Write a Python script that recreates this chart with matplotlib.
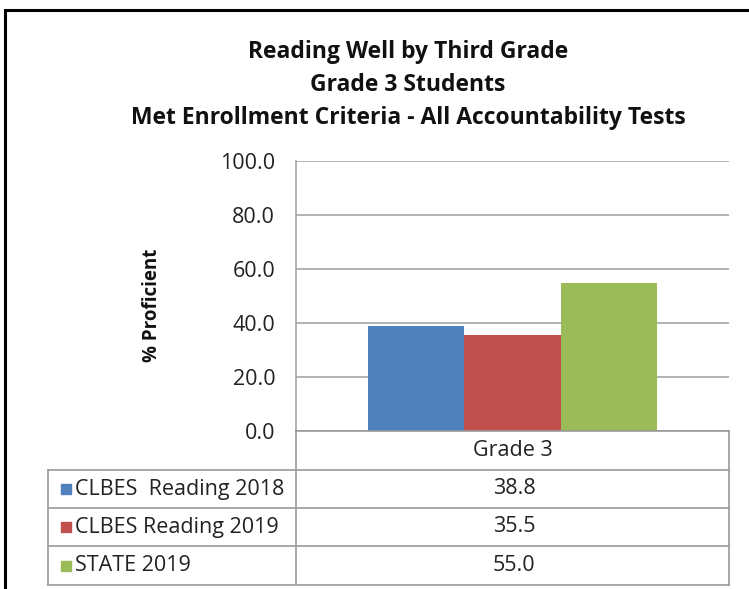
import matplotlib
matplotlib.use('Agg')

import matplotlib.pyplot as plt
from matplotlib.lines import Line2D
from matplotlib.patches import Rectangle

# data
categories = ['Grade 3']
series = ['CLBES  Reading 2018', 'CLBES Reading 2019', 'STATE 2019']
values = [38.8, 35.5, 55.0]
colors = ['#4f81bd', '#c0504d', '#9bbb59']
yticks = [0, 20, 40, 60, 80, 100]

W, H = 749, 589
plt.rcParams['font.family'] = ['Open Sans', 'DejaVu Sans']

fig = plt.figure(figsize=(W / 100, H / 100), dpi=100)

def fx(px):
    return px / W

def fy(py):
    return 1 - py / H

# plot area
ax = fig.add_axes([fx(296), fy(431), fx(729) - fx(296), fy(161) - fy(431)])
bar_w = 1 / 4.5
for i, (v, c) in enumerate(zip(values, colors)):
    ax.bar(-bar_w + i * bar_w, v, width=bar_w, color=c, zorder=3)
ax.set_xlim(-0.5, 0.5)
ax.set_ylim(0, 100)
ax.set_yticks(yticks)
ax.set_yticklabels(['%.1f' % t for t in yticks], fontsize=15.5, color='#222222')
ax.set_xticks([])
ax.tick_params(axis='y', length=0, pad=15)
ax.grid(axis='y', color='#a6a6a6', linewidth=1.2, zorder=0)
for s in ['top', 'right', 'bottom']:
    ax.spines[s].set_visible(False)
ax.spines['left'].set_color('#a6a6a6')
ax.spines['left'].set_linewidth(1.2)

# title and axis label
titles = ['Reading Well by Third Grade', 'Grade 3 Students',
          'Met Enrollment Criteria - All Accountability Tests']
for t, py in zip(titles, [52, 85, 118]):
    fig.text(fx(408), fy(py), t, ha='center', va='center', fontsize=16.5,
             fontweight='bold', color='#111111')
fig.text(fx(152), fy(305), '% Proficient', rotation=90, ha='center', va='center',
         fontsize=13.5, fontweight='bold', color='#111111')

# data table
lc = '#9a9a9a'
rows = [431, 470, 508, 546, 585]
x_left, x_mid, x_right = 48, 296, 729

def hline(x0, x1, py):
    fig.add_artist(Line2D([fx(x0), fx(x1)], [fy(py), fy(py)], color=lc, lw=1.2,
                          transform=fig.transFigure))

def vline(px, y0, y1):
    fig.add_artist(Line2D([fx(px), fx(px)], [fy(y0), fy(y1)], color=lc, lw=1.2,
                          transform=fig.transFigure))

hline(x_mid, x_right, rows[0])
for py in rows[1:]:
    hline(x_left, x_right, py)
vline(x_mid, rows[0], rows[-1])
vline(x_right, rows[0], rows[-1])
vline(x_left, rows[1], rows[-1])

fig.text(fx(513), fy((rows[0] + rows[1]) / 2), categories[0], ha='center',
         va='center', fontsize=15.5, color='#222222')
for i, (name, v, c) in enumerate(zip(series, values, colors)):
    yc = (rows[i + 1] + rows[i + 2]) / 2
    fig.add_artist(Rectangle((fx(61), fy(yc + 5)), fx(10), 10 / H, color=c,
                             transform=fig.transFigure))
    fig.text(fx(75), fy(yc), name, ha='left', va='center', fontsize=15.5,
             color='#222222')
    fig.text(fx(514), fy(yc), '%.1f' % v, ha='center', va='center', fontsize=15.5,
             color='#222222')

# outer border
fig.add_artist(Rectangle((fx(5), -0.05), 1.1, fy(10) + 0.05, fill=False,
                         edgecolor='black', lw=2.2, transform=fig.transFigure))

fig.savefig('out.png', dpi=100)
